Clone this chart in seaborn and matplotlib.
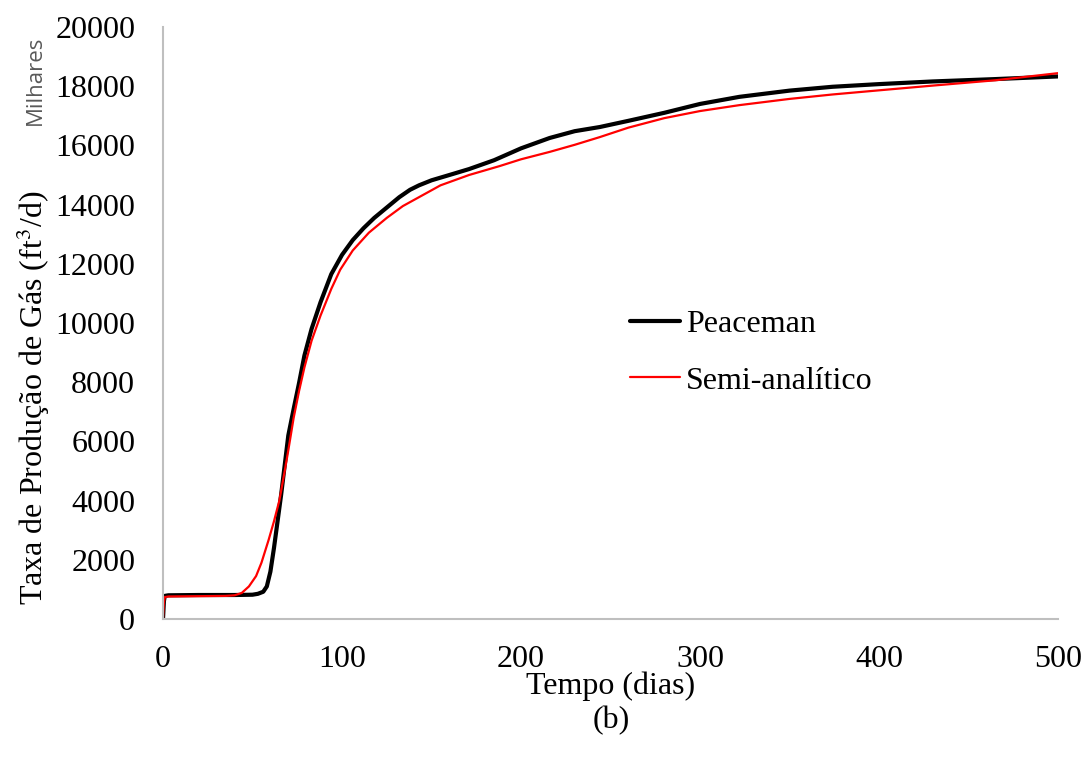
"""
Taxa de produção de gás - Peaceman vs Semi-analítico (b)
"""

import matplotlib
matplotlib.use('Agg')
import matplotlib.pyplot as plt
import numpy as np
import pandas as pd
import seaborn as sns

# dados (tempo em dias, taxa em milhares ft3/d)
tempo_peaceman = [0, 0.5, 1, 3, 20, 40, 50, 53, 56, 58, 60, 62, 64, 66, 68, 70, 73, 76,
                  79, 83, 88, 94, 100, 106, 112, 118, 125, 132, 138, 143, 150, 160,
                  171, 185, 200, 216, 230, 244, 260, 280, 300, 322, 350, 374, 400,
                  430, 465, 500]
taxa_peaceman = [0, 600, 780, 800, 810, 810, 820, 850, 920, 1100, 1600, 2400, 3300,
                 4200, 5200, 6200, 7100, 7970, 8900, 9800, 10700, 11650, 12300, 12800,
                 13200, 13550, 13900, 14250, 14500, 14650, 14820, 15000, 15200, 15500,
                 15900, 16250, 16480, 16620, 16830, 17100, 17400, 17640, 17850, 17980,
                 18070, 18160, 18240, 18330]

tempo_semi = [0, 0.5, 1, 3, 20, 35, 40, 44, 48, 52, 55, 59, 62, 65, 68, 70, 73, 76, 79,
              83, 88, 94, 99, 106, 115, 125, 134, 143, 155, 171, 188, 200, 216, 230,
              244, 260, 280, 300, 322, 350, 374, 400, 430, 465, 500]
taxa_semi = [0, 550, 740, 760, 770, 780, 800, 880, 1100, 1450, 1900, 2670, 3300, 4000,
             5000, 5700, 6800, 7700, 8500, 9400, 10250, 11150, 11800, 12450, 13050,
             13550, 13950, 14250, 14650, 15000, 15300, 15530, 15780, 16020, 16280,
             16600, 16920, 17160, 17360, 17570, 17720, 17860, 18020, 18200, 18440]


def main():
    df = pd.concat([
        pd.DataFrame({'Tempo': tempo_peaceman, 'Taxa': taxa_peaceman, 'Modelo': 'Peaceman'}),
        pd.DataFrame({'Tempo': tempo_semi, 'Taxa': taxa_semi, 'Modelo': 'Semi-analítico'}),
    ])

    sns.set_style('white')
    plt.rcParams['font.family'] = ['Liberation Serif', 'DejaVu Serif']
    plt.rcParams['mathtext.fontset'] = 'stix'
    plt.rcParams['text.color'] = 'black'
    plt.rcParams['xtick.color'] = 'black'
    plt.rcParams['ytick.color'] = 'black'

    fig = plt.figure(figsize=(10.91, 7.58), dpi=100)
    ax = fig.add_axes([0.1494, 0.1834, 0.8204, 0.781])

    sns.lineplot(data=df, x='Tempo', y='Taxa', hue='Modelo', size='Modelo',
                 palette={'Peaceman': 'black', 'Semi-analítico': '#ff0000'},
                 sizes={'Peaceman': 3.0, 'Semi-analítico': 1.6},
                 sort=False, ax=ax, legend=False)
    for ln in ax.get_lines():
        ln.set_solid_joinstyle('round')

    ax.set_xlim(0, 500)
    ax.set_ylim(0, 20000)
    ax.set_xticks(np.arange(0, 501, 100))
    ax.set_yticks(np.arange(0, 20001, 2000))
    ax.tick_params(axis='y', labelsize=23, length=0, pad=20)
    ax.tick_params(axis='x', labelsize=23, length=0, pad=18.5)
    for s in ['top', 'right']:
        ax.spines[s].set_visible(False)
    for s in ['left', 'bottom']:
        ax.spines[s].set_color('#bfbfbf')
        ax.spines[s].set_linewidth(1.5)

    ax.set_xlabel('')
    ax.set_ylabel('')
    fig.text(0.030, 0.475, 'Taxa de Produção de Gás (ft$^3$/d)', rotation=90,
             ha='center', va='center', fontsize=23)
    fig.text(0.560, 0.095, 'Tempo (dias)', ha='center', va='center', fontsize=23)
    fig.text(0.560, 0.049, '(b)', ha='center', va='center', fontsize=23)
    fig.text(0.032, 0.894, 'Milhares', rotation=90, ha='center', va='center',
             fontsize=16, color='#595959', family=['Open Sans', 'DejaVu Sans'])

    # legenda manual
    ax.plot([], [], color='black', lw=3.0, label='Peaceman')
    ax.plot([], [], color='#ff0000', lw=1.6, label='Semi-analítico')
    ax.legend(loc='center left', bbox_to_anchor=(0.49, 0.45), frameon=False,
              fontsize=23, handlelength=1.55, handletextpad=0.2, labelspacing=0.85)

    plt.savefig('out.png', dpi=100)
    plt.close()


if __name__ == '__main__':
    main()
